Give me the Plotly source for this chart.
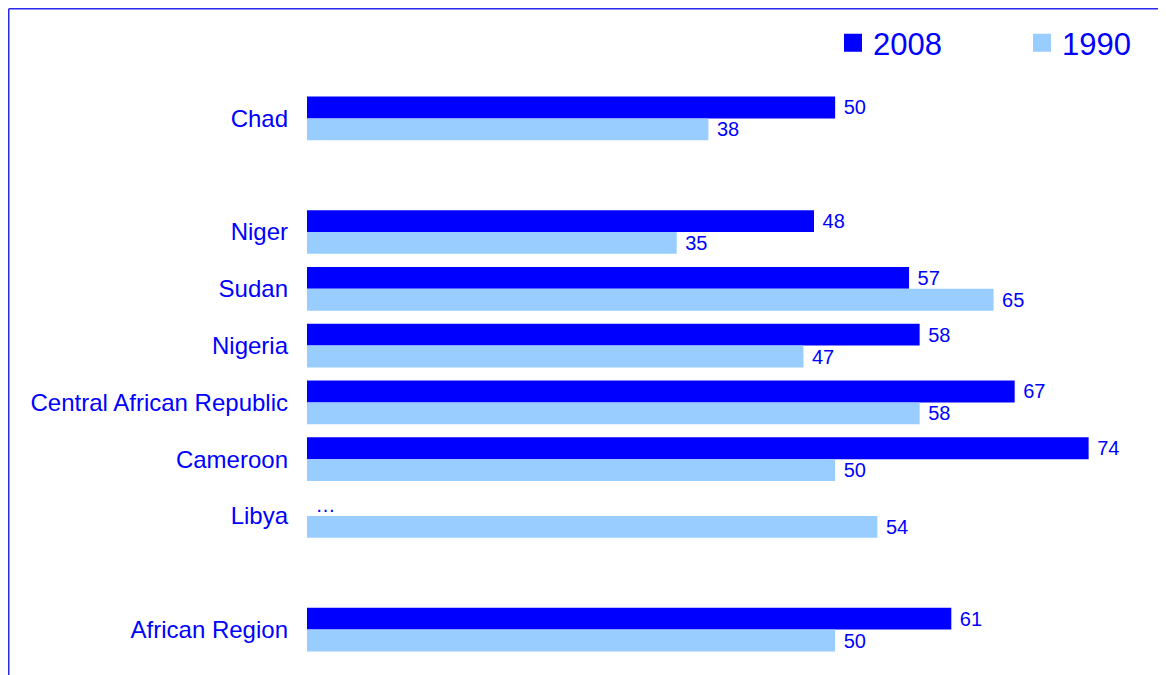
import plotly.graph_objects as go

# ---- data ----
categories = ["Chad", " ", "Niger", "Sudan", "Nigeria", "Central African Republic",
              "Cameroon", "Libya", "  ", "African Region"]
values_2008 = [50, None, 48, 57, 58, 67, 74, None, None, 61]
values_1990 = [38, None, 35, 65, 47, 58, 50, 54, None, 50]
not_available = ["Libya"]          # shown as "…" in 2008
series_names = ["2008", "1990"]
colors = ["#0000FF", "#99CCFF"]

TEXT = "#0000FF"
FONT = "Liberation Sans, Arial, sans-serif"

OFF = 8                      # page body margin
W, H = 1166 - OFF, 675 - OFF
ML, MR, MT, MB = 299, 14, 82, 17
X_MAX = 80


def labels(vals, na_mark):
    out = []
    for c, v in zip(categories, vals):
        if v is None:
            out.append("…" if (na_mark and c in not_available) else "")
        else:
            out.append(str(v))
    return out


fig = go.Figure()
for name, vals, col in zip(series_names, [values_2008, values_1990], colors):
    is_2008 = name == "2008"
    fig.add_trace(go.Bar(
        name=name, orientation="h", y=categories,
        x=[v if v is not None else 0 for v in vals],
        marker=dict(color=col, line=dict(width=0)),
        text=labels(vals, is_2008), texttemplate=" %{text}", textposition="outside",
        textfont=dict(size=20, color=TEXT, family=FONT),
        constraintext="none", cliponaxis=False, showlegend=False,
        hoverinfo="skip",
    ))
    # legend entry with larger square symbol
    fig.add_trace(go.Scatter(
        name=name, x=[None], y=[None], mode="markers",
        marker=dict(symbol="square", size=16, color=col, line=dict(color=col, width=2)),
        showlegend=True, hoverinfo="skip",
    ))


def px_x(px):
    return (px - ML) / (W - ML - MR)


def px_y(py):
    return (H - MB - py) / (H - MT - MB)


frame = dict(color="#2828F0", width=1.5)
fig.add_shape(type="line", xref="paper", yref="paper",
              x0=px_x(0.75), x1=px_x(W + 10), y0=px_y(0.75), y1=px_y(0.75), line=frame)
fig.add_shape(type="line", xref="paper", yref="paper",
              x0=px_x(0.75), x1=px_x(0.75), y0=px_y(0.75), y1=px_y(H + 10), line=frame)

fig.update_layout(
    width=W, height=H,
    margin=dict(l=ML, r=MR, t=MT, b=MB, pad=0, autoexpand=False),
    paper_bgcolor="white", plot_bgcolor="white",
    barmode="group", bargap=0.23, bargroupgap=0,
    font=dict(family=FONT, color=TEXT),
    legend=dict(orientation="h", xref="container", yref="container",
                x=825 / W, xanchor="left",
                y=1 - 35 / H, yanchor="middle",
                font=dict(size=31, color=TEXT, family=FONT),
                entrywidth=144, entrywidthmode="pixels",
                bgcolor="rgba(0,0,0,0)", borderwidth=0, traceorder="normal"),
    xaxis=dict(range=[0, X_MAX], visible=False, fixedrange=True),
    yaxis=dict(type="category", categoryorder="array", categoryarray=categories,
               autorange="reversed", showgrid=False, zeroline=False, showline=False,
               ticks="", ticklabelstandoff=18, automargin=False,
               tickfont=dict(size=24, color=TEXT, family=FONT)),
    showlegend=True,
)

fig.write_html("out.html")
